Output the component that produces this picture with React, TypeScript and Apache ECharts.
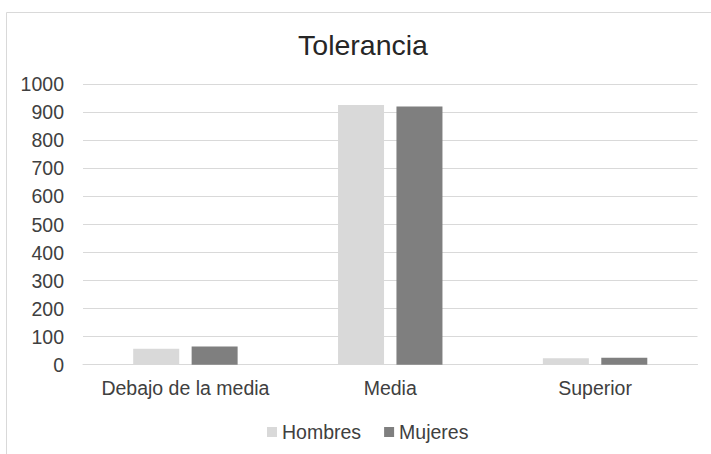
import React, { useEffect, useRef } from "react";
import * as echarts from "echarts";

const categories = ["Debajo de la media", "Media", "Superior"];
const hombres = [57, 926, 23];
const mujeres = [65, 921, 25];
const seriesNames = ["Hombres", "Mujeres"];
const titleText = "Tolerancia";

export default function App() {
  const ref = useRef<HTMLDivElement>(null);
  useEffect(() => {
    if (!ref.current) return;
    const chart = echarts.init(ref.current, undefined, { renderer: "svg" });
    const font = "'Liberation Sans', Arial, sans-serif";
    const labelColor = "#404040";
    chart.setOption({
      animation: false,
      backgroundColor: "#ffffff",
      textStyle: { fontFamily: font },
      title: {
        text: titleText,
        left: 358,
        top: 25,
        textAlign: "center",
        textStyle: { fontFamily: font, fontSize: 28.5, fontWeight: "normal", color: "#262626" },
      },
      graphic: [
        {
          type: "rect",
          shape: { x: 6.5, y: 12.5, width: 720, height: 460 },
          style: { fill: "none", stroke: "#d9d9d9", lineWidth: 1 },
          silent: true,
        },
      ],
      legend: {
        data: seriesNames,
        left: 262,
        top: 417,
        itemWidth: 10,
        itemHeight: 10,
        itemGap: 23,
        icon: "rect",
        textStyle: { fontFamily: font, fontSize: 19.5, color: labelColor, padding: [0, 0, 0, 0] },
      },
      grid: { left: 83, right: 13.5, top: 84.3, bottom: 89.3, containLabel: false },
      xAxis: {
        type: "category",
        data: categories,
        axisLine: { show: true, lineStyle: { color: "#d9d9d9", width: 1 } },
        axisTick: { show: false },
        axisLabel: { fontFamily: font, fontSize: 19.5, color: labelColor, margin: 13, interval: 0 },
      },
      yAxis: {
        type: "value",
        min: 0,
        max: 1000,
        interval: 100,
        axisLine: { show: false },
        axisTick: { show: false },
        splitLine: { lineStyle: { color: "#d9d9d9", width: 1 } },
        axisLabel: {
          fontFamily: font,
          fontSize: 19.5,
          color: labelColor,
          margin: 19,
          formatter: (v: number) => String(v),
        },
      },
      series: [
        {
          name: seriesNames[0],
          type: "bar",
          data: hombres,
          barWidth: 46,
          barGap: "27%",
          itemStyle: { color: "#d9d9d9" },
        },
        {
          name: seriesNames[1],
          type: "bar",
          data: mujeres,
          barWidth: 46,
          barGap: "27%",
          itemStyle: { color: "#7f7f7f" },
        },
      ],
    });
    return () => chart.dispose();
  }, []);
  return (
    <div
      ref={ref}
      style={{ position: "fixed", left: 0, top: 0, width: 711, height: 454 }}
    />
  );
}
